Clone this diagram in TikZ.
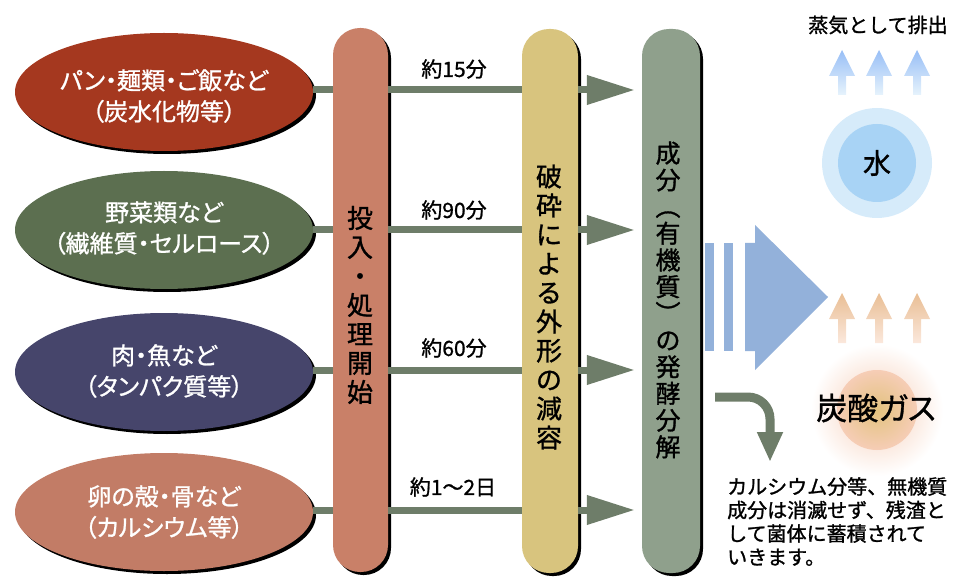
\documentclass[tikz,border=0pt]{standalone}
\usepackage{fontspec}
\usepackage{graphicx}
\setmainfont{Noto Sans CJK JP}
\newfontfamily\jpbold[FakeBold=1.2]{Noto Sans CJK JP}
\newfontfamily\jppropbold[RawFeature=+palt,FakeBold=1.0]{Noto Sans CJK JP}
\usetikzlibrary{shapes.geometric,arrows.meta,shadows}
\definecolor{cRed}{HTML}{A5381F}
\definecolor{cGreen}{HTML}{5C6F50}
\definecolor{cNavy}{HTML}{46456B}
\definecolor{cSalmon}{HTML}{C27C66}
\definecolor{cPillarA}{HTML}{C98068}
\definecolor{cPillarB}{HTML}{D8C47E}
\definecolor{cPillarC}{HTML}{8FA08C}
\definecolor{cArrow}{HTML}{6E7D69}
\definecolor{cBlue}{HTML}{93B1DA}
\definecolor{cWaterOut}{HTML}{D6EBFA}
\definecolor{cWaterIn}{HTML}{A8D3F5}
\definecolor{cGasIn}{HTML}{E2C27E}
\definecolor{cGasMid}{HTML}{F6CDB6}
\definecolor{cPeachTop}{HTML}{E9BE94}
\definecolor{cPeachBot}{HTML}{FBE8DC}
\newcommand{\vparopen}{\rotatebox[origin=c]{-90}{（}}
\newcommand{\vparclose}{\rotatebox[origin=c]{-90}{）}}
\begin{document}
\begin{tikzpicture}[x=1pt,y=-1pt,
  food/.style={ellipse,draw=none,minimum width=298pt,minimum height=118pt,inner sep=0pt,
    drop shadow={shadow xshift=3pt,shadow yshift=-3pt,opacity=1,fill=black}},
  foodtext/.style={text=white,align=center,font=\jppropbold\fontsize{24}{31}\selectfont},
  pillar/.style={rectangle,rounded corners=27pt,minimum height=544pt,inner sep=0pt,
    drop shadow={shadow xshift=3pt,shadow yshift=-3pt,opacity=1,fill=black}},
  vtext/.style={align=center,text=black,inner sep=0pt},
  conn/.style={cArrow,line width=7pt},
  arr/.style={cArrow,line width=7pt,-{Triangle[length=48pt,width=28pt]}},
  timelabel/.style={font=\jppropbold\fontsize{21}{24}\selectfont,text=black,inner sep=0pt},
]
\useasboundingbox (0,0) rectangle (958,577);

% food ellipses
\node[food,fill=cRed]    (e1) at (164,92) {};
\node[food,fill=cGreen]  (e2) at (164,230) {};
\node[food,fill=cNavy]   (e3) at (164,372) {};
\node[food,fill=cSalmon] (e4) at (164,512) {};
\node[foodtext] (t1) at (164,96)  {パン・麺類・ご飯など\\（炭水化物等）};
\node[foodtext] (t2) at (164,228) {野菜類など\\（繊維質・セルロース）};
\node[foodtext] (t3) at (164,371) {肉・魚など\\（タンパク質等）};
\node[foodtext] (t4) at (164,512) {卵の殻・骨など\\（カルシウム等）};

% pillars
\node[pillar,fill=cPillarA,minimum width=55pt] (p1) at (360.5,300) {};
\node[pillar,fill=cPillarB,minimum width=56pt] (p2) at (550,301) {};
\node[pillar,fill=cPillarC,minimum width=58pt] (p3) at (671,301) {};
\node[vtext,font=\jpbold\fontsize{26}{29}\selectfont] (v1) at (360,305) {投\\入\\・\\処\\理\\開\\始};
\node[vtext,font=\jpbold\fontsize{26}{29}\selectfont] (v2) at (549,307) {破\\砕\\に\\よ\\る\\外\\形\\の\\減\\容};
\node[vtext,font=\jpbold\fontsize{25}{26.7}\selectfont] (v3) at (668,300) {成\\分\\\vparopen\\有\\機\\質\\\vparclose\\の\\発\\酵\\分\\解};

% connectors
\foreach \i/\yy in {1/90,2/230,3/370,4/510}{
  \coordinate (a\i) at (p1.east |- 0,\yy);
  \coordinate (b\i) at (p2.west |- 0,\yy);
  \coordinate (c\i) at (p2.east |- 0,\yy);
  \coordinate (d\i) at (p3.west |- 0,\yy);
  \coordinate (s\i) at (e\i.east |- 0,\yy);
  \coordinate (w\i) at (p1.west |- 0,\yy);
  \draw[conn] (s\i) -- (w\i);
  \draw[conn] (a\i) -- (b\i);
  \draw[arr,shorten >=7pt] (c\i) -- (d\i);
}
\node[timelabel] (l1) at (454,69)  {約15分};
\node[timelabel] (l2) at (454,210) {約90分};
\node[timelabel] (l3) at (454,348) {約60分};
\node[timelabel] (l4) at (453,487) {約1〜2日};

% big blue arrow
\fill[cBlue] (705,243) rectangle (714,351);
\fill[cBlue] (724,243) rectangle (733,351);
\fill[cBlue] (745,243) -- (755,243) -- (755,225) -- (828,297) -- (755,370) -- (755,351) -- (745,351) -- cycle;

% water
\fill[cWaterOut] (877,163) circle (55);
\fill[cWaterIn] (877,163) circle (39);
\node[font=\jpbold\fontsize{28}{30}\selectfont,inner sep=0pt] (water) at (877,163) {水};
\foreach \xx in {842,879,917}{
  \shade[top color=cWaterIn!90!blue,bottom color=cWaterOut!60!white]
    (\xx,50) -- (\xx+13,76) -- (\xx+4,76) -- (\xx+4,95) -- (\xx-4,95) -- (\xx-4,76) -- (\xx-13,76) -- cycle;
}
\node[font=\jpbold\fontsize{20}{22}\selectfont,inner sep=0pt] (steam) at (878,25) {蒸気として排出};

% carbonic gas
\shade[inner color=cGasMid,outer color=white] (877,410) circle (66);
\shade[inner color=cGasIn,outer color=cGasMid] (877,410) circle (40);
\foreach \xx in {842,879,917}{
  \shade[top color=cPeachTop,bottom color=cPeachBot]
    (\xx,293) -- (\xx+13,319) -- (\xx+4,319) -- (\xx+4,343) -- (\xx-4,343) -- (\xx-4,319) -- (\xx-13,319) -- cycle;
}
\node[font=\jppropbold\fontsize{31}{33}\selectfont,inner sep=0pt] (gas) at (876,408) {炭酸ガス};

% residue arrow
\coordinate (r0) at (715,397);
\coordinate (r1) at (770,462);
\draw[cArrow,line width=9pt,-{Triangle[length=30pt,width=24pt]}] (r0) -- (748,397) arc[start angle=90,end angle=0,radius=22pt] -- (r1);
\node[anchor=north west,align=left,inner sep=0pt,font=\jpbold\fontsize{20}{23.5}\selectfont] (note) at (727,477)
  {カルシウム分等、無機質\\成分は消滅せず、残渣と\\して菌体に蓄積されて\\いきます。};
\end{tikzpicture}
\end{document}
